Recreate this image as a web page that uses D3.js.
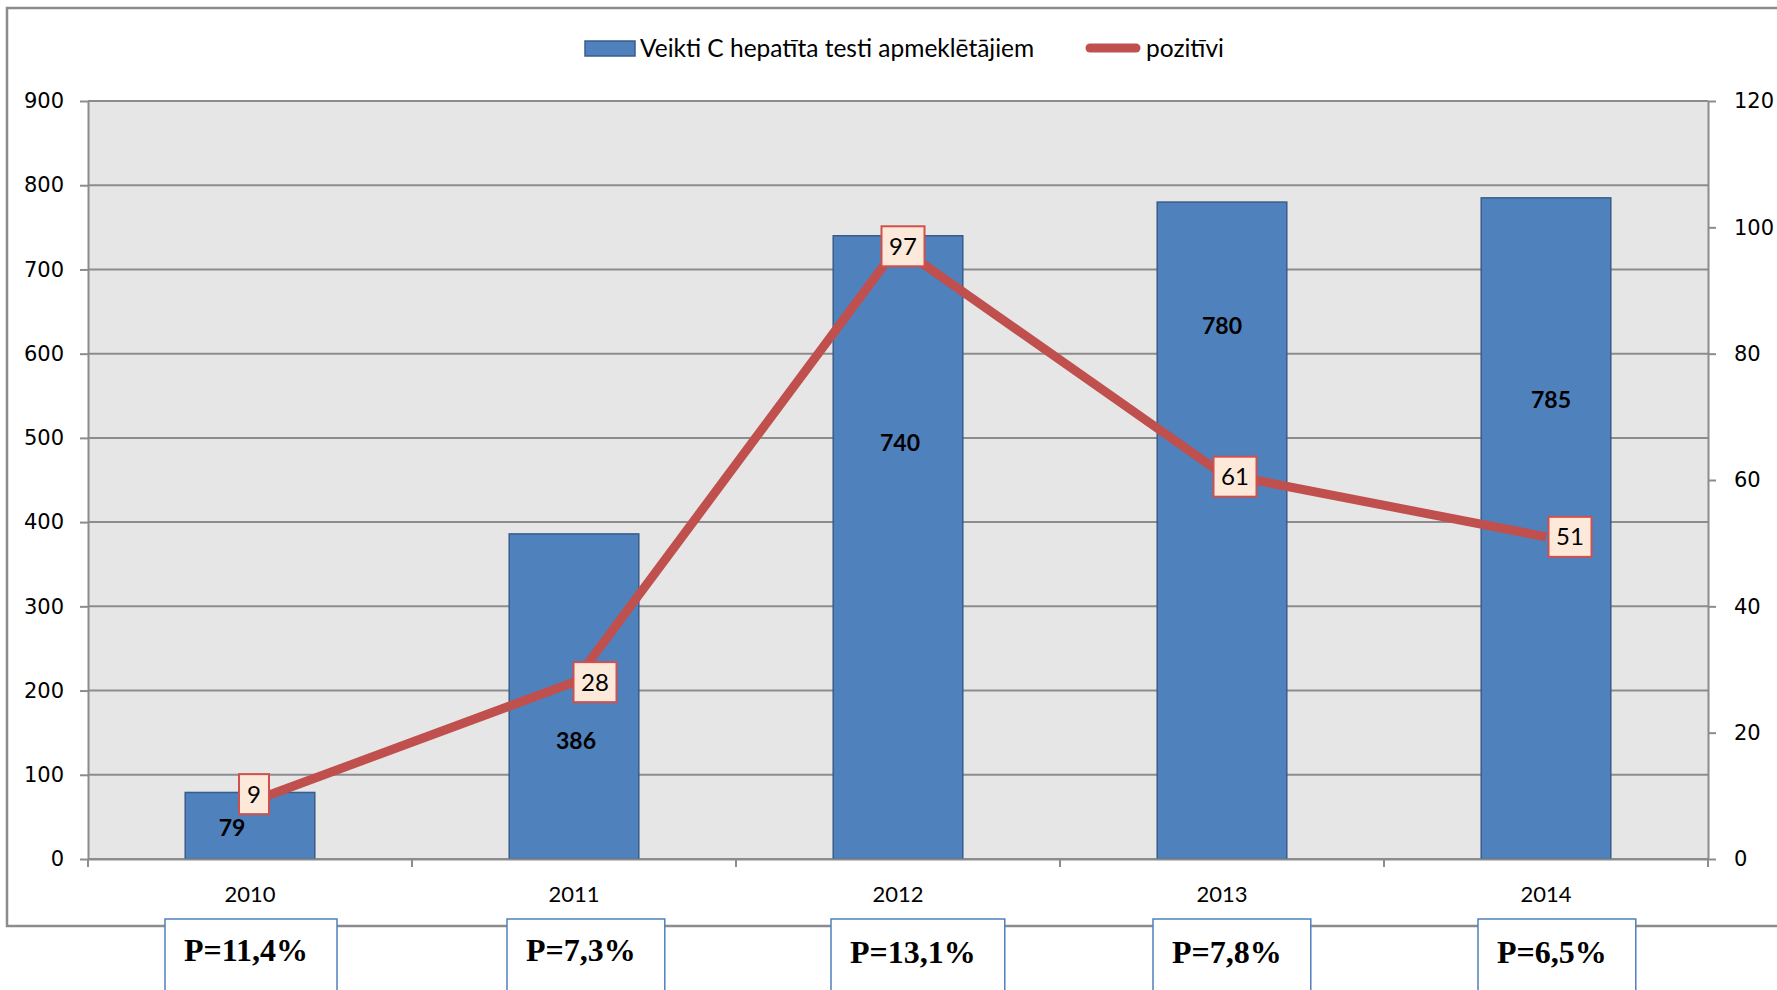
<!DOCTYPE html>
<html>
<head>
	<meta charset="utf-8">
	<title>C hepatīta testi</title>
	<script src="https://d3js.org/d3.v7.min.js"></script>
	<style>
		body { margin: 0; background: #fff; }
		svg { display: block; }
	</style>
</head>
<body>
	<svg width="1777" height="990"></svg>
	<script>
		// data
		const years = ['2010', '2011', '2012', '2013', '2014'];
		const tested = [79, 386, 740, 780, 785];
		const positive = [9, 28, 97, 61, 51];
		const pShare = ['P=11,4%', 'P=7,3%', 'P=13,1%', 'P=7,8%', 'P=6,5%'];
		const leftTicks = [0, 100, 200, 300, 400, 500, 600, 700, 800, 900];
		const rightTicks = [0, 20, 40, 60, 80, 100, 120];
		const legendNames = ['Veikti C hepatīta testi apmeklētājiem', 'pozitīvi'];

		// label placement (manually moved in the original)
		const barLabelPos = [[-18, 37], [2, 140], [2, 494], [0, 633], [5, 545]];
		const lineLabelShift = [[4, -8], [21, 0], [5, 0], [13, 3], [24, 0]];
		const pBoxShift = [-85, -67, -67, -69, -68];

		const plot = { left: 88, right: 1708, top: 101, bottom: 859 };
		const gridColor = '#8c8c8c';
		const blue = '#4f81bd', blueDark = '#385d8a', red = '#c0504d';
		const sans = 'Lato, "Open Sans", sans-serif';

		const svg = d3.select('svg');

		// outer chart frame (right edge runs off the page)
		svg.append('rect')
			.attr('x', 7).attr('y', 8)
			.attr('width', 1850).attr('height', 918)
			.attr('fill', 'none')
			.attr('stroke', gridColor)
			.attr('stroke-width', 2.5);

		const x = d3.scaleBand()
			.domain(years)
			.range([plot.left, plot.right])
			.paddingInner(0.6)
			.paddingOuter(0.3);
		const xc = d => x(d) + x.bandwidth() / 2;

		const yL = d3.scaleLinear().domain([0, 900]).range([plot.bottom, plot.top]);
		const yR = d3.scaleLinear().domain([0, 120]).range([plot.bottom, plot.top]);

		// plot background
		svg.append('rect')
			.attr('x', plot.left).attr('y', plot.top)
			.attr('width', plot.right - plot.left)
			.attr('height', plot.bottom - plot.top)
			.attr('fill', '#e6e6e6');

		// gridlines
		svg.append('g')
			.selectAll('line')
			.data(leftTicks)
			.join('line')
			.attr('x1', plot.left).attr('x2', plot.right)
			.attr('y1', d => yL(d)).attr('y2', d => yL(d))
			.attr('stroke', gridColor)
			.attr('stroke-width', 2);

		// bars
		svg.append('g')
			.selectAll('rect')
			.data(tested)
			.join('rect')
			.attr('x', (d, i) => x(years[i]))
			.attr('y', d => yL(d))
			.attr('width', x.bandwidth())
			.attr('height', d => yL(0) - yL(d))
			.attr('fill', blue)
			.attr('stroke', blueDark)
			.attr('stroke-width', 1.5);

		svg.append('g')
			.selectAll('text')
			.data(tested)
			.join('text')
			.attr('x', (d, i) => xc(years[i]) + barLabelPos[i][0])
			.attr('y', (d, i) => yL(barLabelPos[i][1]))
			.attr('dy', '0.36em')
			.attr('text-anchor', 'middle')
			.style('font-family', sans)
			.style('font-weight', 'bold')
			.style('font-size', '23px')
			.text(d => d);

		// axes
		function styleAxis(g) {
			g.selectAll('.domain, .tick line')
				.attr('stroke', gridColor)
				.attr('stroke-width', 2);
			g.selectAll('text')
				.attr('fill', '#000')
				.style('font-family', '"DejaVu Sans", Verdana, sans-serif')
				.style('font-size', '21px');
		}

		svg.append('g')
			.attr('transform', `translate(${plot.left},0)`)
			.call(d3.axisLeft(yL).tickValues(leftTicks).tickSize(8).tickSizeOuter(0).tickPadding(16))
			.call(styleAxis);

		svg.append('g')
			.attr('transform', `translate(${plot.right},0)`)
			.call(d3.axisRight(yR).tickValues(rightTicks).tickSize(8).tickSizeOuter(0).tickPadding(18))
			.call(styleAxis);

		const xAxis = svg.append('g')
			.attr('transform', `translate(0,${plot.bottom})`)
			.call(d3.axisBottom(x).tickSize(0).tickSizeOuter(0).tickPadding(27))
			.call(styleAxis);
		xAxis.selectAll('text').style('font-family', sans).style('font-size', '22px');

		// category boundary ticks
		svg.append('g')
			.selectAll('line')
			.data(d3.range(years.length + 1))
			.join('line')
			.attr('x1', i => plot.left + i * x.step())
			.attr('x2', i => plot.left + i * x.step())
			.attr('y1', plot.bottom).attr('y2', plot.bottom + 8)
			.attr('stroke', gridColor)
			.attr('stroke-width', 2);

		// positive results line on the right axis
		const line = d3.line()
			.x((d, i) => xc(years[i]))
			.y(d => yR(d));

		svg.append('path')
			.datum(positive)
			.attr('d', line)
			.attr('fill', 'none')
			.attr('stroke', red)
			.attr('stroke-width', 9)
			.attr('stroke-linejoin', 'round');

		const lab = svg.append('g')
			.selectAll('g')
			.data(positive)
			.join('g')
			.attr('transform', (d, i) =>
				`translate(${xc(years[i]) + lineLabelShift[i][0]},${yR(d) + lineLabelShift[i][1]})`);

		lab.append('rect')
			.attr('x', d => String(d).length > 1 ? -21.5 : -15)
			.attr('y', -20)
			.attr('width', d => String(d).length > 1 ? 43 : 30)
			.attr('height', 40)
			.attr('fill', '#fde9d9')
			.attr('stroke', '#d0504d')
			.attr('stroke-width', 2);

		lab.append('text')
			.attr('text-anchor', 'middle')
			.attr('dy', '0.36em')
			.style('font-family', sans)
			.style('font-size', '24px')
			.text(d => d);

		// legend
		const legend = svg.append('g');
		legend.append('rect')
			.attr('x', 585).attr('y', 41)
			.attr('width', 50).attr('height', 15)
			.attr('fill', blue)
			.attr('stroke', blueDark)
			.attr('stroke-width', 1.5);
		legend.append('text')
			.attr('x', 640).attr('y', 48)
			.attr('dy', '0.36em')
			.style('font-family', sans)
			.style('font-size', '24.5px')
			.text(legendNames[0]);
		legend.append('line')
			.attr('x1', 1090).attr('x2', 1136)
			.attr('y1', 48).attr('y2', 48)
			.attr('stroke', red)
			.attr('stroke-width', 9)
			.attr('stroke-linecap', 'round');
		legend.append('text')
			.attr('x', 1146).attr('y', 48)
			.attr('dy', '0.36em')
			.style('font-family', sans)
			.style('font-size', '24.5px')
			.text(legendNames[1]);

		// P= boxes under the categories
		const pb = svg.append('g')
			.selectAll('g')
			.data(pShare)
			.join('g')
			.attr('transform', (d, i) => `translate(${xc(years[i]) + pBoxShift[i]},919)`);

		pb.append('rect')
			.attr('y', 0)
			.attr('height', 120)
			.attr('fill', '#fff')
			.attr('stroke', blue)
			.attr('stroke-width', 1.5);

		pb.append('text')
			.attr('x', 19)
			.attr('y', (d, i) => i < 2 ? 42 : 44)
			.style('font-family', '"Liberation Serif", "Times New Roman", serif')
			.style('font-weight', 'bold')
			.style('font-size', '32px')
			.text(d => d)
			.each(function () {
				const w = this.getComputedTextLength();
				d3.select(this.parentNode).select('rect').attr('width', w + 48);
			});
	</script>
</body>
</html>
